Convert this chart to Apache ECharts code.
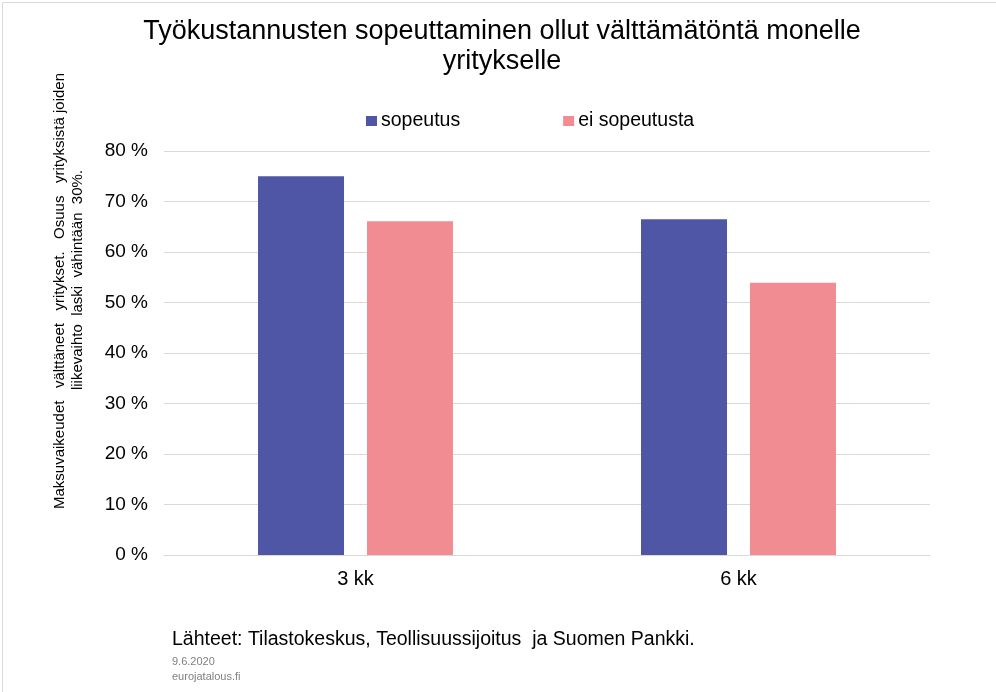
<!DOCTYPE html>
<html>
<head>
<meta charset="utf-8">
<script src="https://cdn.jsdelivr.net/npm/echarts@6/dist/echarts.min.js"></script>
<style>
html,body{margin:0;padding:0;background:#fff;}
#chart{width:996px;height:692px;}
</style>
</head>
<body>
<div id="chart"></div>
<script>
var categories = ['3 kk', '6 kk'];
var seriesNames = ['sopeutus', 'ei sopeutusta'];
var sopeutus = [75.0, 66.5];
var eiSopeutusta = [66.1, 53.9];
var yTicks = [0, 10, 20, 30, 40, 50, 60, 70, 80];

var FONT = '"Liberation Sans", Arial, sans-serif';
var chart = echarts.init(document.getElementById('chart'));
chart.setOption({
  animation: false,
  backgroundColor: '#ffffff',
  textStyle: { fontFamily: FONT },
  title: {
    text: 'Työkustannusten sopeuttaminen ollut välttämätöntä monelle\nyritykselle',
    left: 497, top: 12, textAlign: 'center',
    textStyle: { fontFamily: FONT, fontSize: 27, fontWeight: 'normal', color: '#000', lineHeight: 30 }
  },
  legend: {
    data: seriesNames,
    left: 361, top: 106,
    itemWidth: 11, itemHeight: 10, itemGap: 103,
    icon: 'rect',
    textStyle: { fontFamily: FONT, fontSize: 19.5, color: '#000', padding: [0, 0, 0, -1] }
  },
  grid: { left: 164, right: 66, top: 151, bottom: 137, containLabel: false },
  xAxis: {
    type: 'category', data: categories,
    axisLine: { show: true, lineStyle: { color: '#d9d9d9' } },
    axisTick: { show: false },
    axisLabel: { fontFamily: FONT, fontSize: 20, color: '#000', margin: 14 }
  },
  yAxis: {
    type: 'value', min: yTicks[0], max: yTicks[yTicks.length - 1], interval: 10,
    axisLine: { show: false }, axisTick: { show: false },
    splitLine: { lineStyle: { color: '#d9d9d9', width: 1 } },
    axisLabel: { fontFamily: FONT, fontSize: 19, color: '#000', margin: 16,
      formatter: function (v) { return v + ' %'; } }
  },
  series: [
    { name: seriesNames[0], type: 'bar', data: sopeutus, barWidth: 86, barGap: '26.7%',
      itemStyle: { color: '#4e56a5' } },
    { name: seriesNames[1], type: 'bar', data: eiSopeutusta, barWidth: 86,
      itemStyle: { color: '#f28c93' } }
  ],
  graphic: [
    { type: 'rect', left: 0, top: 0, z: -10, silent: true,
      shape: { x: 0.5, y: 0.5, width: 995, height: 691 },
      style: { fill: 'none', stroke: '#d9d9d9', lineWidth: 1 } },
    { type: 'text', x: 60, y: 291, rotation: Math.PI / 2,
      style: { text: 'Maksuvaikeudet   välttäneet   yritykset.   Osuus   yrityksistä joiden',
        font: '15px ' + FONT, fill: '#000', align: 'center', verticalAlign: 'middle' } },
    { type: 'text', x: 78, y: 280, rotation: Math.PI / 2,
      style: { text: 'liikevaihto  laski  vähintään  30%.',
        font: '15px ' + FONT, fill: '#000', align: 'center', verticalAlign: 'middle' } },
    { type: 'text', left: 172, top: 630,
      style: { text: 'Lähteet: Tilastokeskus, Teollisuussijoitus  ja Suomen Pankki.', font: '19.5px ' + FONT, fill: '#000' } },
    { type: 'text', left: 172, top: 656,
      style: { text: '9.6.2020', font: '11px ' + FONT, fill: '#808080' } },
    { type: 'text', left: 172, top: 671,
      style: { text: 'eurojatalous.fi', font: '11px ' + FONT, fill: '#808080' } }
  ]
});
</script>
</body>
</html>
